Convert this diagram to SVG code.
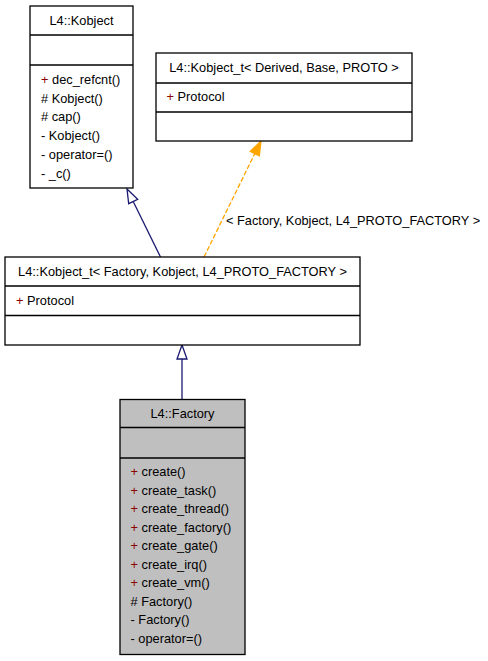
<svg xmlns="http://www.w3.org/2000/svg" width="488" height="661" viewBox="0 0 488 661">
<style>
text{font-family:"Liberation Sans",Arial,Helvetica,sans-serif;font-size:12.8px;fill:#000}
.t{text-anchor:middle}
.box{fill:#fff;stroke:#000;stroke-width:1.3}
.gray{fill:#bfbfbf}
.div{stroke:#000;stroke-width:1.5}
.pub{fill:#8b0000}
.inh{fill:none;stroke:#191970;stroke-width:1.3}
.tpl{fill:none;stroke:#ffa500;stroke-width:1.3;stroke-dasharray:5,2}
</style>
<g id="edges">
  <line class="inh" x1="160.5" y1="257" x2="133.2" y2="201.5"/>
  <polygon points="127,189 128.7,203.7 137.7,199.3" fill="#fff" stroke="#191970" stroke-width="1.3"/>
  <line class="tpl" x1="204" y1="257" x2="254.8" y2="153.6"/>
  <polygon points="261,141 250.3,151.4 259.3,155.8" fill="#ffa500" stroke="#ffa500" stroke-width="1.3"/>
  <text x="226" y="225">&lt; Factory, Kobject, L4_PROTO_FACTORY &gt;</text>
  <line class="inh" x1="182" y1="399" x2="182" y2="359"/>
  <polygon points="182,345 177,359 187,359" fill="#fff" stroke="#191970" stroke-width="1.3"/>
</g>
<g id="kobject">
  <rect class="box" x="30" y="6" width="103" height="182"/>
  <line class="div" x1="30" y1="35" x2="133" y2="35"/>
  <line class="div" x1="30" y1="65" x2="133" y2="65"/>
  <text class="t" x="81.5" y="25">L4::Kobject</text>
  <text x="41" y="84"><tspan class="pub">+</tspan> dec_refcnt()</text>
  <text x="41" y="102.7"># Kobject()</text>
  <text x="41" y="121.4"># cap()</text>
  <text x="41" y="140">- Kobject()</text>
  <text x="41" y="158.8">- operator=()</text>
  <text x="41" y="177.5">- _c()</text>
</g>
<g id="kobject_t">
  <rect class="box" x="156" y="53" width="256" height="88"/>
  <line class="div" x1="156" y1="83" x2="412" y2="83"/>
  <line class="div" x1="156" y1="112" x2="412" y2="112"/>
  <text class="t" x="284" y="72">L4::Kobject_t&lt; Derived, Base, PROTO &gt;</text>
  <text x="166.5" y="100.5"><tspan class="pub">+</tspan> Protocol</text>
</g>
<g id="kobject_t_factory">
  <rect class="box" x="5" y="257" width="355" height="88"/>
  <line class="div" x1="5" y1="286" x2="360" y2="286"/>
  <line class="div" x1="5" y1="315.5" x2="360" y2="315.5"/>
  <text class="t" x="182.5" y="275.5">L4::Kobject_t&lt; Factory, Kobject, L4_PROTO_FACTORY &gt;</text>
  <text x="16" y="304.5"><tspan class="pub">+</tspan> Protocol</text>
</g>
<g id="factory">
  <rect class="box gray" x="120" y="399.5" width="125" height="255"/>
  <line class="div" x1="120" y1="427.5" x2="245" y2="427.5"/>
  <line class="div" x1="120" y1="458" x2="245" y2="458"/>
  <text class="t" x="182.5" y="417.5">L4::Factory</text>
  <text x="130.5" y="476"><tspan class="pub">+</tspan> create()</text>
  <text x="130.5" y="494.5"><tspan class="pub">+</tspan> create_task()</text>
  <text x="130.5" y="513"><tspan class="pub">+</tspan> create_thread()</text>
  <text x="130.5" y="531.5"><tspan class="pub">+</tspan> create_factory()</text>
  <text x="130.5" y="550"><tspan class="pub">+</tspan> create_gate()</text>
  <text x="130.5" y="568.5"><tspan class="pub">+</tspan> create_irq()</text>
  <text x="130.5" y="587"><tspan class="pub">+</tspan> create_vm()</text>
  <text x="130.5" y="605.5"># Factory()</text>
  <text x="130.5" y="624">- Factory()</text>
  <text x="130.5" y="642.5">- operator=()</text>
</g>
</svg>
